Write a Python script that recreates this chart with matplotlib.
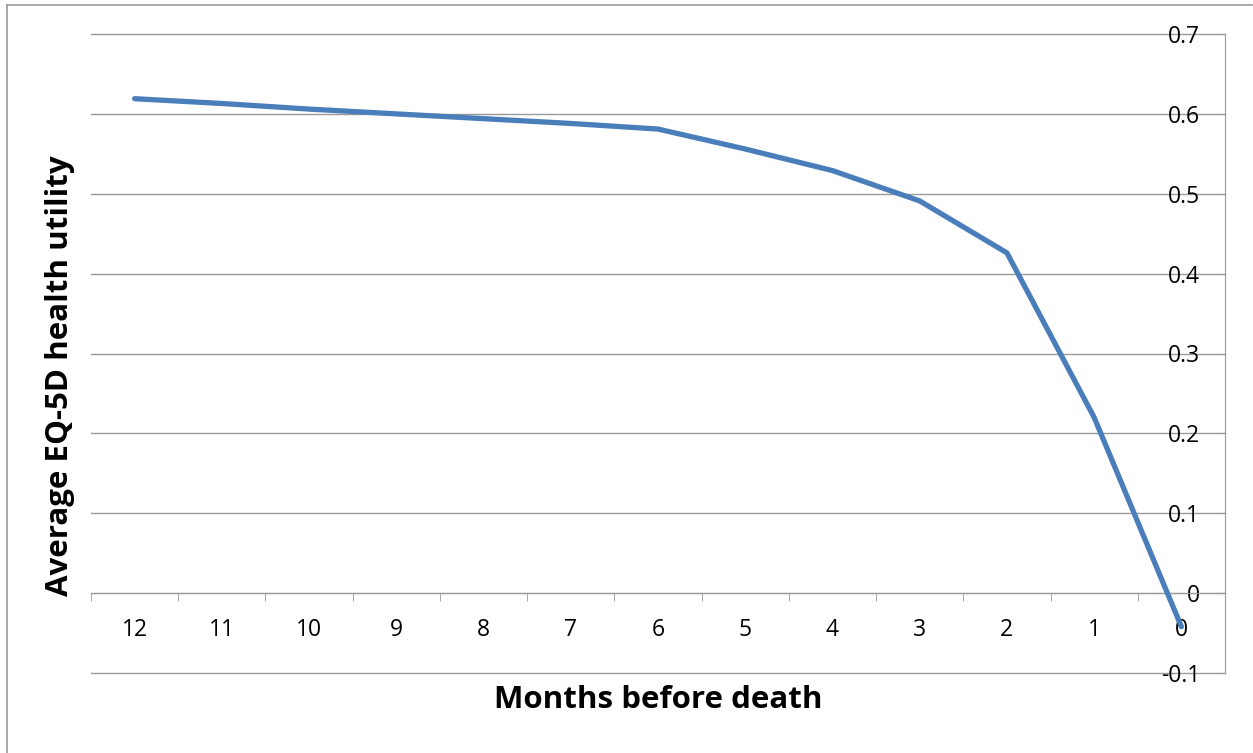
import matplotlib.pyplot as plt
from matplotlib.lines import Line2D
import numpy as np

# EQ-5D utility by month before death
months = ['12', '11', '10', '9', '8', '7', '6', '5', '4', '3', '2', '1', '0']
utility = [0.619, 0.613, 0.606, 0.600, 0.594, 0.588, 0.581, 0.556, 0.529, 0.491, 0.426, 0.220, -0.042]
yticks = [-0.1, 0, 0.1, 0.2, 0.3, 0.4, 0.5, 0.6, 0.7]

plt.rcParams['font.family'] = ['Open Sans', 'DejaVu Sans']
grey = '#9a9a9a'

fig = plt.figure(figsize=(12.53, 7.53), dpi=100)
ax = fig.add_axes([91 / 1253, 1 - 673 / 753, 1134 / 1253, 639 / 753])

x = np.arange(len(months))
ax.plot(x, utility, color='#4a7ebb', lw=3.8, solid_capstyle='round', zorder=3)

ax.set_xlim(-0.5, len(months) - 0.5)
ax.set_ylim(-0.1, 0.7)

# gridlines
for v in yticks:
    ax.axhline(v, color=grey, lw=1, zorder=1, clip_on=False)

# y axis on the right, labels sitting inside
ax.yaxis.tick_right()
ax.set_yticks(yticks)
ax.set_yticklabels(['-0.1', '0', '0.1', '0.2', '0.3', '0.4', '0.5', '0.6', '0.7'])
ax.tick_params(axis='y', direction='in', length=6, color=grey, pad=-18, labelsize=16.5)
for lbl in ax.get_yticklabels():
    lbl.set_horizontalalignment('right')

# x axis along zero, ticks between categories
ax.spines['bottom'].set_position(('data', 0))
ax.spines['bottom'].set_color(grey)
ax.set_xticks(x)
ax.set_xticklabels(months)
ax.set_xticks(np.arange(-0.5, len(months)), minor=True)
ax.tick_params(axis='x', which='major', length=0, pad=18, labelsize=16.5)
ax.tick_params(axis='x', which='minor', length=6, color=grey, direction='out')

for s in ['top', 'left']:
    ax.spines[s].set_visible(False)
ax.spines['right'].set_color(grey)

ax.set_xlabel('Months before death', fontsize=22.5, fontweight='bold')
ax.xaxis.set_label_coords(0.5, -0.042)
ax.xaxis.label.set_va('center')
ax.set_ylabel('Average EQ-5D health utility', fontsize=22.5, fontweight='bold')
ax.yaxis.set_label_position('left')
ax.yaxis.set_label_coords(-0.027, 0.466)
ax.yaxis.label.set_va('center')

# chart frame
fig.add_artist(Line2D([7 / 1253, 7 / 1253], [0, 1 - 5 / 753], transform=fig.transFigure, color=grey, lw=1.2))
fig.add_artist(Line2D([7 / 1253, 1252 / 1253], [1 - 5 / 753, 1 - 5 / 753], transform=fig.transFigure, color=grey, lw=1.2))

fig.savefig('out.png', dpi=100)
